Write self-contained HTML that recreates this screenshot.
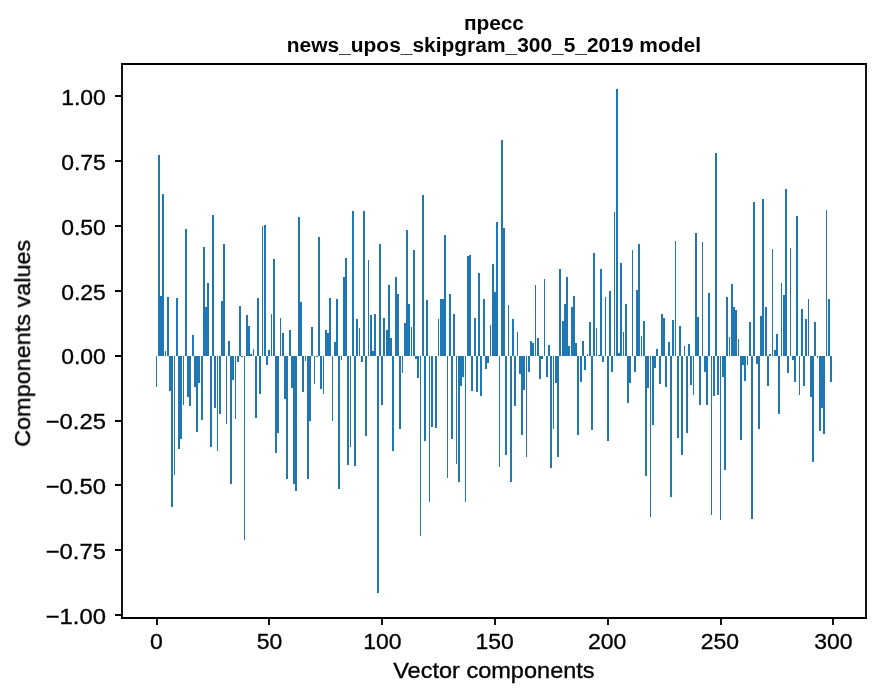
<!DOCTYPE html>
<html><head><meta charset="utf-8"><title>пресс</title>
<style>html,body{margin:0;padding:0;background:#fff;}body{width:880px;height:696px;overflow:hidden;font-family:"Liberation Sans",sans-serif;}svg{display:block;position:absolute;top:0;left:0}</style>
</head><body>
<svg width="880" height="696" viewBox="0 0 880 696" font-family="'Liberation Sans', sans-serif" font-size="22.5" fill="#000">
<rect width="880" height="696" fill="#fff"/>
<path fill="#1f77b4" shape-rendering="crispEdges" d="M156 356h1v31h-1zM158 155h2v201h-2zM160 296h2v60h-2zM162 194h2v162h-2zM165 351h1v5h-1zM167 297h2v59h-2zM169 356h2v35h-2zM171 356h2v151h-2zM174 356h1v119h-1zM176 298h2v58h-2zM178 356h2v93h-2zM180 356h2v83h-2zM183 356h1v49h-1zM185 229h2v127h-2zM187 356h2v41h-2zM189 356h2v50h-2zM192 335h2v21h-2zM194 356h2v31h-2zM196 356h2v76h-2zM198 356h2v27h-2zM201 356h2v64h-2zM203 247h2v109h-2zM205 307h2v49h-2zM207 283h2v73h-2zM210 356h2v91h-2zM212 215h2v141h-2zM214 356h2v52h-2zM217 356h1v95h-1zM219 356h2v58h-2zM221 301h2v55h-2zM223 244h2v112h-2zM226 356h1v68h-1zM228 341h2v15h-2zM230 356h2v128h-2zM232 356h2v24h-2zM235 356h1v63h-1zM237 356h2v6h-2zM239 306h2v50h-2zM241 356h2v1h-2zM244 356h1v184h-1zM246 315h2v41h-2zM248 326h2v30h-2zM250 354h2v2h-2zM253 349h1v7h-1zM255 356h2v62h-2zM257 298h2v58h-2zM259 356h2v38h-2zM262 226h1v130h-1zM264 225h2v131h-2zM266 356h2v9h-2zM268 350h2v6h-2zM271 314h1v42h-1zM273 259h2v97h-2zM275 356h2v97h-2zM277 356h2v77h-2zM280 318h1v38h-1zM282 333h2v23h-2zM284 356h2v43h-2zM286 356h2v123h-2zM289 330h2v26h-2zM291 356h2v32h-2zM293 356h2v128h-2zM295 356h2v135h-2zM298 217h2v139h-2zM300 302h2v54h-2zM302 356h2v36h-2zM305 356h1v5h-1zM307 356h2v123h-2zM309 356h2v65h-2zM311 327h2v29h-2zM314 356h1v28h-1zM316 356h2v1h-2zM318 237h2v119h-2zM320 356h2v33h-2zM323 356h1v38h-1zM325 330h2v26h-2zM327 333h2v23h-2zM329 298h2v58h-2zM332 356h1v65h-1zM334 342h2v14h-2zM336 299h2v57h-2zM338 356h2v133h-2zM341 356h1v4h-1zM343 277h2v79h-2zM345 258h2v98h-2zM347 356h2v109h-2zM350 356h1v91h-1zM352 211h2v145h-2zM354 356h2v110h-2zM356 319h2v37h-2zM359 328h1v28h-1zM361 356h2v6h-2zM363 211h2v145h-2zM365 356h2v80h-2zM368 260h1v96h-1zM370 315h2v41h-2zM372 351h2v5h-2zM374 314h2v42h-2zM377 356h2v237h-2zM379 244h2v112h-2zM381 356h2v49h-2zM383 318h2v38h-2zM386 330h2v26h-2zM388 285h2v71h-2zM390 338h2v18h-2zM392 356h2v95h-2zM395 277h2v79h-2zM397 294h2v62h-2zM399 356h2v73h-2zM402 356h1v17h-1zM404 323h2v33h-2zM406 230h2v126h-2zM408 304h2v52h-2zM411 327h1v29h-1zM413 250h2v106h-2zM415 356h2v3h-2zM417 356h2v22h-2zM420 356h1v180h-1zM422 195h2v161h-2zM424 356h2v85h-2zM426 300h2v56h-2zM429 356h1v146h-1zM431 356h2v71h-2zM435 356h2v72h-2zM438 319h1v37h-1zM440 299h2v57h-2zM442 299h2v57h-2zM444 235h2v121h-2zM447 356h1v122h-1zM449 294h2v62h-2zM451 356h2v83h-2zM453 314h2v42h-2zM456 356h1v108h-1zM458 356h2v126h-2zM460 356h2v30h-2zM462 356h2v21h-2zM465 356h1v146h-1zM467 256h2v100h-2zM469 255h2v101h-2zM471 356h2v35h-2zM474 318h2v38h-2zM476 356h2v36h-2zM478 273h2v83h-2zM480 356h2v40h-2zM483 299h2v57h-2zM485 356h2v13h-2zM487 356h2v7h-2zM490 325h1v31h-1zM492 264h2v92h-2zM494 292h2v64h-2zM496 222h2v134h-2zM499 356h1v111h-1zM501 140h2v216h-2zM503 228h2v128h-2zM505 356h2v99h-2zM508 305h1v51h-1zM510 356h2v126h-2zM512 319h2v37h-2zM514 356h2v50h-2zM517 332h1v24h-1zM519 356h2v18h-2zM521 356h2v79h-2zM523 356h2v34h-2zM526 356h1v101h-1zM528 356h2v16h-2zM530 341h2v15h-2zM532 343h2v13h-2zM535 285h1v71h-1zM537 338h2v18h-2zM539 356h2v23h-2zM541 356h2v3h-2zM544 279h1v77h-1zM546 356h2v21h-2zM548 345h2v11h-2zM550 356h2v112h-2zM553 356h1v73h-1zM555 356h2v27h-2zM557 356h2v101h-2zM559 269h2v87h-2zM562 321h2v35h-2zM564 304h2v52h-2zM566 277h2v79h-2zM568 346h2v10h-2zM571 307h2v49h-2zM573 296h2v60h-2zM575 343h2v13h-2zM577 356h2v79h-2zM580 356h2v26h-2zM582 341h2v15h-2zM584 356h2v14h-2zM587 354h1v2h-1zM589 322h2v34h-2zM591 356h2v74h-2zM593 253h2v103h-2zM596 328h1v28h-1zM598 355h2v1h-2zM600 269h2v87h-2zM602 356h2v6h-2zM605 297h1v59h-1zM607 356h2v85h-2zM609 291h2v65h-2zM611 356h2v16h-2zM614 212h1v144h-1zM616 89h2v267h-2zM618 353h2v3h-2zM620 263h2v93h-2zM623 332h1v24h-1zM625 304h2v52h-2zM627 356h2v47h-2zM629 356h2v27h-2zM632 250h1v106h-1zM634 356h2v16h-2zM636 290h2v66h-2zM638 244h2v112h-2zM641 336h1v20h-1zM643 321h2v35h-2zM645 356h2v120h-2zM647 356h2v32h-2zM650 356h1v161h-1zM652 356h2v69h-2zM654 356h2v12h-2zM656 349h2v7h-2zM659 356h2v28h-2zM661 314h2v42h-2zM663 318h2v38h-2zM665 356h2v31h-2zM668 342h2v14h-2zM670 356h2v141h-2zM672 320h2v36h-2zM675 241h1v115h-1zM677 356h2v82h-2zM679 326h2v30h-2zM681 356h2v99h-2zM684 346h1v10h-1zM686 356h2v77h-2zM688 344h2v12h-2zM690 356h2v29h-2zM693 356h1v39h-1zM695 233h2v123h-2zM697 317h2v39h-2zM699 356h2v49h-2zM702 242h1v114h-1zM704 356h2v16h-2zM706 356h2v49h-2zM708 293h2v63h-2zM711 356h1v159h-1zM713 356h2v40h-2zM715 153h2v203h-2zM717 356h2v39h-2zM720 356h1v164h-1zM722 356h2v21h-2zM724 356h2v114h-2zM726 297h2v59h-2zM729 337h1v19h-1zM731 284h2v72h-2zM733 307h2v49h-2zM735 310h2v46h-2zM738 339h1v17h-1zM740 356h2v84h-2zM742 356h2v9h-2zM744 356h2v25h-2zM747 356h1v9h-1zM749 322h2v34h-2zM751 356h2v163h-2zM753 202h2v154h-2zM756 356h2v8h-2zM758 356h2v73h-2zM760 316h2v40h-2zM762 199h2v157h-2zM765 307h2v49h-2zM767 356h2v30h-2zM769 354h2v2h-2zM772 249h1v107h-1zM774 350h2v6h-2zM776 334h2v22h-2zM778 356h2v58h-2zM781 283h1v73h-1zM783 295h2v61h-2zM785 189h2v167h-2zM787 356h2v17h-2zM790 248h1v108h-1zM792 356h2v4h-2zM794 356h2v26h-2zM796 216h2v140h-2zM799 356h1v39h-1zM801 309h2v47h-2zM803 356h2v30h-2zM805 319h2v37h-2zM808 299h1v57h-1zM810 356h2v41h-2zM812 356h2v106h-2zM814 322h2v34h-2zM817 356h1v2h-1zM819 356h2v75h-2zM821 356h2v52h-2zM823 356h2v78h-2zM826 210h1v146h-1zM828 299h2v57h-2zM830 356h2v26h-2z"/>
<path d="M122 64V618" stroke="#000" stroke-width="1.85" stroke-linecap="square" fill="none"/>
<path d="M866 64V618" stroke="#000" stroke-width="1.85" stroke-linecap="square" fill="none"/>
<path d="M122 64H866" stroke="#000" stroke-width="1.85" stroke-linecap="square" fill="none"/>
<path d="M122 618H866" stroke="#000" stroke-width="1.85" stroke-linecap="square" fill="none"/>
<path d="M115.00 96.00H122M115.00 161.00H122M115.00 226.00H122M115.00 291.00H122M115.00 356.00H122M115.00 421.00H122M115.00 485.00H122M115.00 550.00H122M115.00 615.00H122M157.00 618V625.00M269.00 618V625.00M382.00 618V625.00M495.00 618V625.00M608.00 618V625.00M721.00 618V625.00M833.00 618V625.00" stroke="#000" stroke-width="1.85" fill="none"/>
<g style="opacity:0.999" stroke="#000" stroke-width="0.35">
<text x="105.9" y="104.60" text-anchor="end" textLength="44.7" lengthAdjust="spacingAndGlyphs">1.00</text>
<text x="105.9" y="169.60" text-anchor="end" textLength="44.7" lengthAdjust="spacingAndGlyphs">0.75</text>
<text x="105.9" y="234.60" text-anchor="end" textLength="44.7" lengthAdjust="spacingAndGlyphs">0.50</text>
<text x="105.9" y="299.60" text-anchor="end" textLength="44.7" lengthAdjust="spacingAndGlyphs">0.25</text>
<text x="105.9" y="363.60" text-anchor="end" textLength="44.7" lengthAdjust="spacingAndGlyphs">0.00</text>
<text x="105.9" y="428.60" text-anchor="end" textLength="60.2" lengthAdjust="spacingAndGlyphs">−0.25</text>
<text x="105.9" y="493.60" text-anchor="end" textLength="60.2" lengthAdjust="spacingAndGlyphs">−0.50</text>
<text x="105.9" y="558.60" text-anchor="end" textLength="60.2" lengthAdjust="spacingAndGlyphs">−0.75</text>
<text x="105.9" y="623.60" text-anchor="end" textLength="60.2" lengthAdjust="spacingAndGlyphs">−1.00</text>
<text x="156.40" y="648.6" text-anchor="middle" textLength="12.8" lengthAdjust="spacingAndGlyphs">0</text>
<text x="269.60" y="648.6" text-anchor="middle" textLength="25.5" lengthAdjust="spacingAndGlyphs">50</text>
<text x="382.50" y="648.6" text-anchor="middle" textLength="38.3" lengthAdjust="spacingAndGlyphs">100</text>
<text x="494.75" y="648.6" text-anchor="middle" textLength="38.3" lengthAdjust="spacingAndGlyphs">150</text>
<text x="607.25" y="648.6" text-anchor="middle" textLength="38.3" lengthAdjust="spacingAndGlyphs">200</text>
<text x="720.00" y="648.6" text-anchor="middle" textLength="38.3" lengthAdjust="spacingAndGlyphs">250</text>
<text x="833.35" y="648.6" text-anchor="middle" textLength="38.3" lengthAdjust="spacingAndGlyphs">300</text>
<text x="493.9" y="677.8" text-anchor="middle" textLength="201.5" lengthAdjust="spacingAndGlyphs">Vector components</text>
<text transform="translate(30.1 343.3) rotate(-90)" text-anchor="middle" textLength="207.2" lengthAdjust="spacingAndGlyphs">Components values</text>
<text x="493.9" y="29.7" text-anchor="middle" font-weight="bold" font-size="20.9" stroke="none">пресс</text>
<text x="493.9" y="51.6" text-anchor="middle" font-weight="bold" font-size="20.9" stroke="none" textLength="414.2" lengthAdjust="spacingAndGlyphs" style="white-space:pre">news_upos_skipgram_300_5_2019 model</text>
</g>
</svg>
</body></html>
